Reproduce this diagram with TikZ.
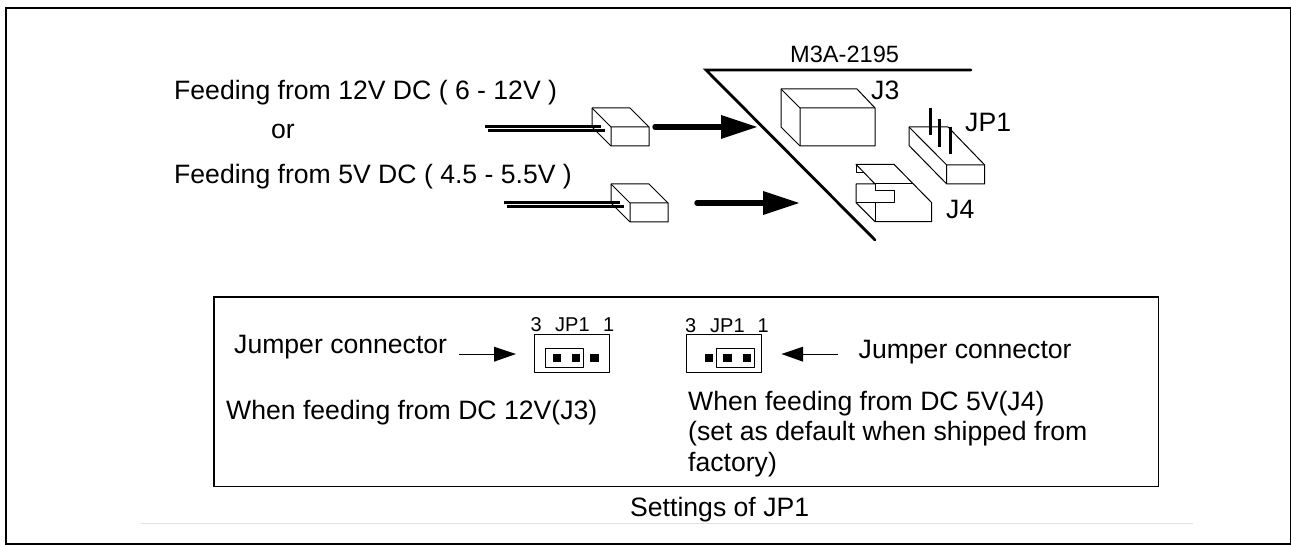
\documentclass[tikz,border=0pt]{standalone}
\usepackage{fontspec}
\setmainfont{Liberation Sans}
\tikzset{x=1pt,y=-1pt,
 lbl/.style={inner sep=0pt,anchor=base west,font=\fontsize{26.6}{30}\selectfont,text=black},
 sm/.style={inner sep=0pt,anchor=base west,font=\fontsize{20}{22}\selectfont,text=black},
 thin box/.style={draw=black,line width=1pt,fill=white,line join=round},
 thin line/.style={draw=black,line width=1pt,line join=round},
 wire/.style={line width=3pt,black},
 bigarrow/.style={line width=5.4pt,line cap=round,black},
 tip/.style={fill=black,draw=none},
 heavy/.style={line width=2.8pt,black,line cap=round},
 pin/.style={fill=black,draw=none,minimum size=8.3pt,inner sep=0pt,outer sep=0pt}}
\begin{document}
\begin{tikzpicture}
\useasboundingbox (0,0) rectangle (1291,545);
\fill[white] (0,0) rectangle (1291,545);
\draw[black,line width=1.6pt] (6,8) rectangle (1290.3,544);
\draw[draw=black!12,line width=1pt] (141,523.5) -- (1193,523.5);
% texts
\node[lbl] (t1) at (174,100) {Feeding from 12V DC ( 6 - 12V )};
\node[lbl] (t2) at (271,139) {or};
\node[lbl] (t3) at (174,184) {Feeding from 5V DC ( 4.5 - 5.5V )};
\node[inner sep=0pt,anchor=base west,font=\fontsize{23.6}{26}\selectfont] (m3a) at (790,62.3) {M3A-2195};
\node[lbl] (j3) at (871,100) {J3};
\node[lbl] (jp1) at (965,131.5) {JP1};
\node[lbl] (j4) at (946,219) {J4};
% board outline
\draw[heavy,line join=miter] (971,70) -- (706,70) -- (875,240);
% connector 1
\draw[thin box] (592,108) -- (630,108) -- (649,127) -- (649,146) -- (611,146) -- (592,127) -- cycle;
\draw[thin line] (592,108) -- (611,127) -- (649,127) (611,127) -- (611,146);
\draw[wire] (485,127) -- (600.5,127);
\draw[wire] (488,130.5) -- (605,130.5);
% connector 2
\draw[thin box] (611,184) -- (649,184) -- (668,203) -- (668,222) -- (630,222) -- (611,203) -- cycle;
\draw[thin line] (611,184) -- (630,203) -- (668,203) (630,203) -- (630,222);
\draw[wire] (504,203) -- (620,203);
\draw[wire] (507,206.5) -- (623.5,206.5);
% arrows
\coordinate (a1s) at (655,127); \coordinate (a1e) at (721,127);
\draw[bigarrow] (a1s) -- (a1e);
\fill[tip] (721,115) -- (757,127) -- (721,139) -- cycle;
\coordinate (a2s) at (697,203); \coordinate (a2e) at (763,203);
\draw[bigarrow] (a2s) -- (a2e);
\fill[tip] (763,191) -- (799,203) -- (763,215) -- cycle;
% J3
\draw[thin box] (781,89) -- (857,89) -- (875,108) -- (875,146) -- (800,146) -- (781,127) -- cycle;
\draw[thin line] (781,89) -- (800,108) -- (875,108) (800,108) -- (800,146);
% JP1
\draw[thin box] (909,127) -- (948,127) -- (984.7,165) -- (984.7,184) -- (946.7,184) -- (909,145.5) -- cycle;
\draw[thin line] (909,127) -- (946.7,165) -- (984.7,165) (946.7,165) -- (946.7,184);
\draw[line width=2.5pt,black] (930.7,107.7) -- (930.7,135);
\draw[line width=2.5pt,black] (939.3,119) -- (939.3,146.7);
\draw[line width=2.5pt,black] (950.7,126.7) -- (950.7,154);
% J4
\draw[thin line] (856,164.3) -- (894,164.3) -- (931.7,202.7) -- (931.7,221.7) -- (875,221.7) -- (856,202.7) -- (856,184) -- (875,184) -- cycle;
\draw[thin line] (856,164.3) -- (856,172.7) -- (864,172.7);
\draw[thin line] (875,184) -- (912.7,184);
\draw[thin line] (875,184) -- (875,191) -- (894,191) -- (894,202.7) -- (856,202.7);
\draw[thin line] (875,202.7) -- (875,221.7);
% Settings box
\draw[black,line width=1.4pt] (214,297) rectangle (1158.5,486.5);
\node[lbl] (jc1) at (234,354) {Jumper connector};
\node[lbl] (wf1) at (226,419.3) {When feeding from DC 12V(J3)};
\node[lbl] (jc2) at (858.5,358.3) {Jumper connector};
\node[lbl] (wf2) at (688,410) {When feeding from DC 5V(J4)};
\node[lbl] (wf3) at (688,440.7) {(set as default when shipped from};
\node[lbl] (wf4) at (688,471.7) {factory)};
\node[sm] (a3) at (530.5,332) {3};
\node[sm] (ajp) at (555,332) {JP1};
\node[sm] (a1) at (603,332) {1};
\node[sm] (b3) at (685,332.5) {3};
\node[sm] (bjp) at (710,332.5) {JP1};
\node[sm] (b1) at (757.5,332.5) {1};
% header 1
\draw[thin box] (534,335) rectangle (609.3,372.7);
\draw[thin box] (545.7,348.3) rectangle (583.3,367.3);
\node[pin] (p1a) at (556.7,358) {}; \node[pin] (p1b) at (575.8,358) {}; \node[pin] (p1c) at (594.5,358) {};
% header 2
\draw[thin box] (686.3,335) rectangle (761.7,372.7);
\draw[thin box] (716.3,348.3) rectangle (754.3,367.3);
\node[pin] (p2a) at (709,358) {}; \node[pin] (p2b) at (727.5,358) {}; \node[pin] (p2c) at (746.8,358) {};
% small arrows
\coordinate (s1) at (459,354); \coordinate (s1e) at (495,354);
\draw[line width=0.9pt] (s1) -- (s1e);
\fill[tip] (494,346.7) -- (516,354) -- (494,361.7) -- cycle;
\coordinate (s2) at (838,354); \coordinate (s2e) at (803,354);
\draw[line width=0.9pt] (s2) -- (s2e);
\fill[tip] (803,346.7) -- (781.5,354) -- (803,361.7) -- cycle;
\node[lbl] (cap) at (630,516.7) {Settings of JP1};
\end{tikzpicture}
\end{document}
